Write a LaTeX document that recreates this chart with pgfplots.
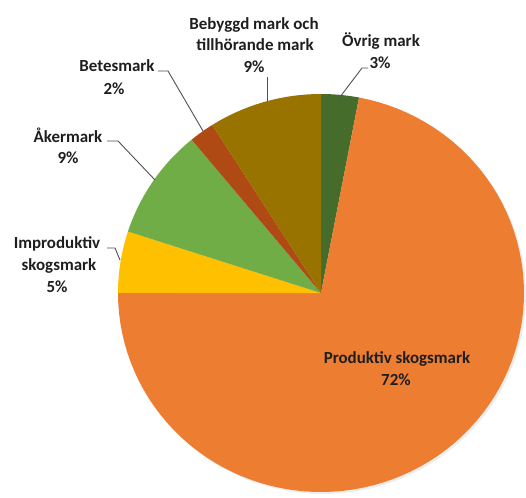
\documentclass[border=0pt]{standalone}
\usepackage{pgfplots}
\pgfplotsset{compat=1.18}
\usepackage{fontspec}
\setmainfont{Carlito}

\definecolor{cOvrig}{HTML}{466C2C}
\definecolor{cProd}{HTML}{ED7D31}
\definecolor{cImprod}{HTML}{FFC000}
\definecolor{cAker}{HTML}{70AD47}
\definecolor{cBete}{HTML}{B04A14}
\definecolor{cBebyggd}{HTML}{997300}
\definecolor{cLead}{HTML}{505050}
\definecolor{cText}{HTML}{1E1E1E}

% pie centre and radii, in picture pixels (y runs downwards)
\def\cx{321}
\def\cy{293}
\def\rx{203}
\def\ry{199}

% running start angle; slices go clockwise from 12 o'clock
\def\startangle{90}
\newcommand{\pieslice}[2]{% percent, colour
  \pgfmathsetmacro{\endangle}{\startangle-3.6*#1}%
  \edef\temp{\noexpand\addplot[draw=none, fill=#2, domain=\endangle:\startangle, samples=90]
    ({\cx+\rx*cos(x)}, {\cy-\ry*sin(x)}) -- (axis cs:\cx,\cy) -- cycle;}%
  \temp
  \global\let\startangle\endangle
}
\newcommand{\lbl}[3]{\node[anchor=base, inner sep=0pt, text=cText,
  font=\fontsize{17}{20}\selectfont\bfseries] at (axis cs:#1,#2) {#3};}

\begin{document}
\begin{tikzpicture}
\begin{axis}[
    width=526bp, height=498bp, scale only axis,
    xmin=0, xmax=526, ymin=0, ymax=498, y dir=reverse,
    hide axis, clip=false,
  ]
  \path (axis cs:0,0) rectangle (axis cs:526,498);

  % soft shadow
  \addplot[draw=none, fill=gray!14, domain=0:360, samples=120]
    ({\cx+2+\rx*cos(x)}, {\cy+2-\ry*sin(x)}) -- cycle;

  \pieslice{3}{cOvrig}    % Övrig mark
  \pieslice{72}{cProd}    % Produktiv skogsmark
  \pieslice{5}{cImprod}   % Improduktiv skogsmark
  \pieslice{9}{cAker}     % Åkermark
  \pieslice{2}{cBete}     % Betesmark
  \pieslice{9}{cBebyggd}  % Bebyggd mark och tillhörande mark

  % leader lines
  \draw[cLead, line width=0.9pt] (axis cs:267,101) -- (axis cs:267,77);
  \draw[cLead, line width=0.9pt] (axis cs:340,97) -- (axis cs:362,68) -- (axis cs:368,68);
  \draw[cLead, line width=0.9pt] (axis cs:203,131) -- (axis cs:168,71) -- (axis cs:158,71);
  \draw[cLead, line width=0.9pt] (axis cs:155,180) -- (axis cs:118,141) -- (axis cs:107,141);
  \draw[cLead, line width=0.9pt] (axis cs:120,260) -- (axis cs:115,248) -- (axis cs:107,248);

  % labels
  \lbl{254}{30}{Bebyggd mark och}
  \lbl{255}{51}{tillhörande mark}
  \lbl{254}{73}{9\%}
  \lbl{381}{47}{Övrig mark}
  \lbl{380}{69}{3\%}
  \lbl{117}{72}{Betesmark}
  \lbl{114}{94}{2\%}
  \lbl{68}{142}{Åkermark}
  \lbl{68}{163}{9\%}
  \lbl{57}{248}{Improduktiv}
  \lbl{59}{270}{skogsmark}
  \lbl{57}{292}{5\%}
  \lbl{397}{363}{Produktiv skogsmark}
  \lbl{396}{385}{72\%}
\end{axis}
\end{tikzpicture}
\end{document}
